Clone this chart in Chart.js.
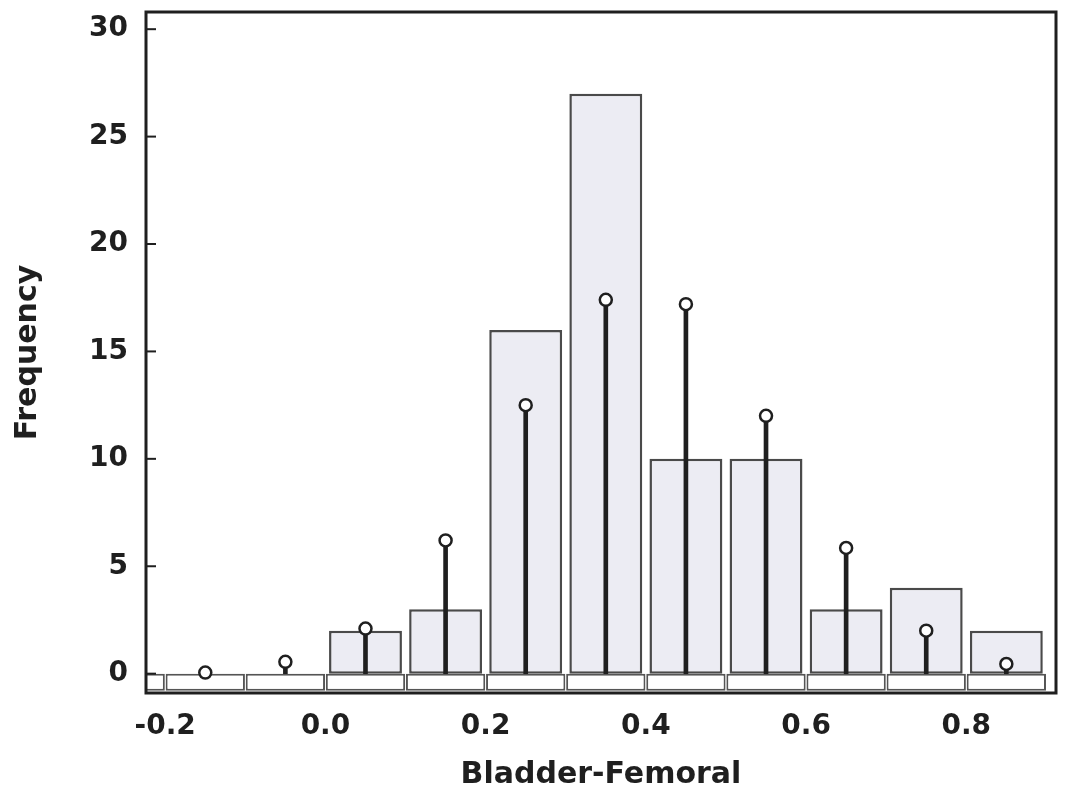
<!DOCTYPE html>
<html>
<head>
<meta charset="utf-8">
<script src="https://cdn.jsdelivr.net/npm/chart.js@4.4.0/dist/chart.umd.min.js"></script>
<style>
  html, body { margin: 0; padding: 0; background: #fff; }
  #wrap { width: 1069px; height: 802px; }
</style>
</head>
<body>
<div id="wrap"><canvas id="chart"></canvas></div>
<script>
// histogram bins (centre of each 0.1 wide bin)
const binCenters = [-0.25, -0.15, -0.05, 0.05, 0.15, 0.25, 0.35, 0.45, 0.55, 0.65, 0.75, 0.85];
const frequencies = [0, 0, 0, 2, 3, 16, 27, 10, 10, 3, 4, 2];

// expected (normal fit) frequencies, drawn as lollipops
const expectedCenters = [-0.15, -0.05, 0.05, 0.15, 0.25, 0.35, 0.45, 0.55, 0.65, 0.75, 0.85];
const expectedFreq = [0.05, 0.55, 2.1, 6.2, 12.5, 17.4, 17.2, 12.0, 5.85, 2.0, 0.45];

// white boxes under the zero line
const boxBottom = -0.8;

const xTicks = [-0.2, 0.0, 0.2, 0.4, 0.6, 0.8];
const yTicks = [0, 5, 10, 15, 20, 25, 30];

const ink = "#1f1f1f";
const tickFont = { family: "DejaVu Sans", weight: "bold", size: 28 };
const titleFont = { family: "DejaVu Sans", weight: "bold", size: 30 };

// frame round the plot + short inward ticks on the y axis
const framePlugin = {
  id: "frame",
  afterDatasetsDraw(chart) {
    const { ctx, chartArea: a, scales } = chart;
    ctx.save();
    ctx.strokeStyle = ink;
    ctx.lineWidth = 2;
    yTicks.forEach(v => {
      const y = scales.y.getPixelForValue(v);
      ctx.beginPath();
      ctx.moveTo(a.left, y);
      ctx.lineTo(a.left + 10, y);
      ctx.stroke();
    });
    ctx.lineWidth = 3;
    ctx.strokeRect(a.left, a.top, a.right - a.left, a.bottom - a.top);
    ctx.restore();
  }
};

new Chart(document.getElementById("chart"), {
  type: "bar",
  data: {
    datasets: [
      {
        type: "scatter",
        data: expectedCenters.map((x, i) => ({ x, y: expectedFreq[i] })),
        pointRadius: 6,
        pointBackgroundColor: "#ffffff",
        pointBorderColor: ink,
        pointBorderWidth: 2.5,
        order: 1
      },
      {
        data: expectedCenters.map((x, i) => ({ x, y: expectedFreq[i] })),
        backgroundColor: ink,
        borderWidth: 0,
        barThickness: 4,
        grouped: false,
        order: 2
      },
      {
        data: binCenters.map((x, i) => ({ x, y: frequencies[i] })),
        backgroundColor: "#ececf3",
        borderColor: "#4a4a4a",
        borderWidth: 2.5,
        borderSkipped: false,
        categoryPercentage: 1,
        barPercentage: 0.91,
        grouped: false,
        order: 3
      },
      {
        data: binCenters.map(x => ({ x, y: [boxBottom, 0] })),
        backgroundColor: "#ffffff",
        borderColor: "#555555",
        borderWidth: 2,
        borderSkipped: false,
        categoryPercentage: 1,
        barPercentage: 0.99,
        grouped: false,
        order: 4
      }
    ]
  },
  options: {
    responsive: true,
    maintainAspectRatio: false,
    animation: false,
    layout: { padding: { top: 12, right: 13, left: 0, bottom: 0 } },
    plugins: { legend: { display: false }, tooltip: { enabled: false } },
    scales: {
      x: {
        type: "linear",
        offset: false,
        min: -0.224,
        max: 0.912,
        grid: { display: false, drawTicks: false },
        border: { display: false },
        afterBuildTicks: s => { s.ticks = xTicks.map(v => ({ value: v })); },
        afterFit: s => { s.height = 109; s.paddingLeft = 0; s.paddingRight = 0; },
        ticks: {
          color: ink,
          font: tickFont,
          padding: 17,
          maxRotation: 0,
          callback: v => v.toFixed(1)
        },
        title: {
          display: true,
          text: "Bladder-Femoral",
          color: ink,
          font: titleFont,
          padding: { top: 0, bottom: 9 }
        }
      },
      y: {
        min: -0.9,
        max: 30.8,
        grid: { display: false, drawTicks: false },
        border: { display: false },
        afterBuildTicks: s => { s.ticks = yTicks.map(v => ({ value: v })); },
        afterFit: s => { s.width = 146; s.paddingTop = 0; s.paddingBottom = 0; },
        ticks: { color: ink, font: tickFont, padding: 18 },
        title: {
          display: true,
          text: "Frequency",
          color: ink,
          font: titleFont,
          padding: { top: 10, bottom: 0 }
        }
      }
    }
  },
  plugins: [framePlugin]
});
</script>
</body>
</html>
